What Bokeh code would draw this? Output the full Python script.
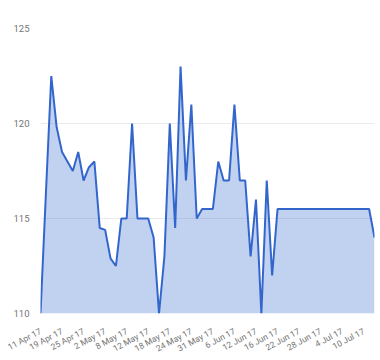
from bokeh.plotting import figure
from bokeh.models import ColumnDataSource, FixedTicker, Range1d
from bokeh.embed import file_html
from bokeh.resources import INLINE

values = [110, 116.3, 122.5, 119.8, 118.5, 118, 117.5, 118.5, 117, 117.7,
          118, 114.5, 114.4, 112.9, 112.5, 115, 115, 120, 115, 115,
          115, 114, 110, 113, 120, 114.5, 123, 117, 121, 115,
          115.5, 115.5, 115.5, 118, 117, 117, 121, 117, 117, 113,
          116, 110, 117, 112, 115.5, 115.5, 115.5, 115.5, 115.5, 115.5,
          115.5, 115.5, 115.5, 115.5, 115.5, 115.5, 115.5, 115.5, 115.5, 115.5,
          115.5, 115.5, 114]
tick_labels = ["11 Apr 17", "19 Apr 17", "25 Apr 17", "2 May 17", "8 May 17",
               "12 May 17", "18 May 17", "24 May 17", "31 May 17", "6 Jun 17",
               "12 Jun 17", "16 Jun 17", "22 Jun 17", "28 Jun 17", "4 Jul 17",
               "10 Jul 17"]
y_ticks = [110, 115, 120, 125]
y_min, y_max = 110, 125

xs = list(range(len(values)))
tick_pos = [i * 4 for i in range(len(tick_labels))]
src = ColumnDataSource(dict(x=xs, y=values, base=[y_min] * len(values)))

p = figure(width=376, height=360, output_backend="svg", toolbar_location=None,
           x_range=Range1d(0, len(values) - 1), y_range=Range1d(y_min, y_max),
           min_border_left=40, min_border_right=2, min_border_top=28,
           min_border_bottom=46)
p.outline_line_color = None
p.background_fill_color = "white"
p.border_fill_color = "white"

p.varea(x="x", y1="base", y2="y", source=src, fill_color="#3366CC", fill_alpha=0.3)
p.line(x="x", y="y", source=src, line_color="#3366CC", line_width=2)

p.xgrid.grid_line_color = None
p.ygrid.grid_line_color = "#ebebeb"
p.ygrid.ticker = FixedTicker(ticks=y_ticks)

p.yaxis.ticker = FixedTicker(ticks=y_ticks)
p.xaxis.ticker = FixedTicker(ticks=tick_pos)
p.xaxis.major_label_overrides = {pos: lab for pos, lab in zip(tick_pos, tick_labels)}
p.xaxis.major_label_orientation = 0.49

for ax in (p.xaxis, p.yaxis):
    ax.axis_line_color = None
    ax.major_tick_line_color = None
    ax.minor_tick_line_color = None
    ax.major_label_text_font = "Roboto"
    ax.major_label_text_color = "#757575"
p.yaxis.major_label_text_font_size = "9.5px"
p.xaxis.major_label_text_font_size = "8.5px"
p.yaxis.major_label_standoff = 5
p.xaxis.major_label_standoff = 11

open("out.html", "w").write(file_html(p, INLINE))
